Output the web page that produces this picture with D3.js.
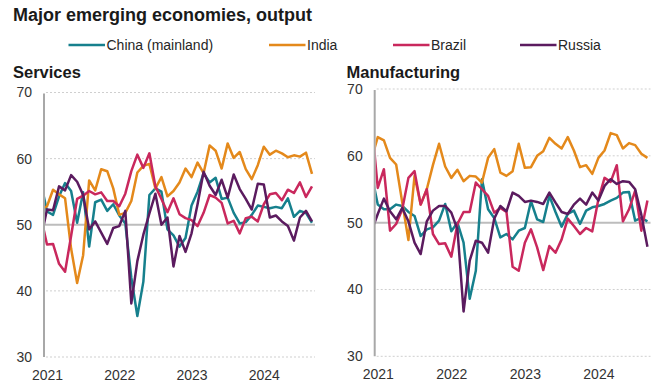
<!DOCTYPE html>
<html>
<head>
<meta charset="utf-8">
<script src="https://d3js.org/d3.v7.min.js"></script>
<style>
  html, body { margin: 0; padding: 0; background: #fff; }
  svg { display: block; font-family: "Liberation Sans", Arial, sans-serif; }
</style>
</head>
<body>
<svg id="chart" width="659" height="383"></svg>
<script>
// Monthly readings, December 2020 to September 2024
const startMonth = new Date(2020, 11, 1);
const monthCount = 46;

const seriesNames = ["China (mainland)", "India", "Brazil", "Russia"];
const seriesColors = ["#16808d", "#e4891b", "#c9285d", "#5b1b5f"];

const yTicks = [30, 40, 50, 60, 70];
const yearTicks = ["2021", "2022", "2023", "2024"];

// Services business activity
const servicesChina = [56.3, 52.0, 51.5, 54.3, 56.3, 55.1, 50.3, 54.9, 46.7, 53.4, 53.8, 52.1, 53.1,
  51.4, 50.2, 42.0, 36.2, 41.4, 54.5, 55.5, 55.0, 49.3, 48.4, 46.7, 48.0,
  52.9, 55.0, 57.8, 56.4, 57.1, 53.9, 54.1, 51.8, 50.2, 50.4, 51.5, 52.9,
  52.7, 52.5, 52.7, 52.5, 54.0, 51.2, 52.1, 51.8, 50.3];
const servicesIndia = [52.3, 52.8, 55.3, 54.6, 54.0, 46.4, 41.2, 45.4, 56.7, 55.2, 58.4, 58.1, 55.5,
  51.5, 51.8, 53.6, 57.9, 58.9, 59.2, 55.5, 57.2, 54.3, 55.1, 56.4, 58.5,
  57.2, 59.4, 57.8, 62.0, 61.2, 58.5, 62.3, 60.1, 61.0, 58.4, 56.9, 59.0,
  61.8, 60.6, 61.2, 60.8, 60.2, 60.5, 60.3, 60.9, 57.7];
const servicesBrazil = [51.1, 47.0, 47.1, 44.1, 42.9, 48.3, 53.9, 54.4, 55.1, 54.6, 54.9, 53.6, 53.6,
  52.8, 54.7, 58.1, 60.6, 58.6, 60.8, 55.8, 53.9, 51.9, 54.0, 51.6, 51.0,
  50.7, 49.8, 51.8, 54.5, 54.1, 53.3, 50.2, 50.6, 48.7, 51.0, 51.2, 50.5,
  53.1, 54.6, 54.8, 53.7, 55.3, 54.8, 56.4, 54.2, 55.8];
const servicesRussia = [48.0, 52.3, 52.2, 55.8, 55.2, 57.5, 56.5, 54.5, 49.3, 50.5, 48.8, 47.1, 49.5,
  49.8, 52.1, 38.1, 44.5, 48.5, 51.7, 54.7, 50.0, 51.1, 43.7, 48.3, 45.9,
  48.7, 53.1, 58.0, 55.9, 54.5, 56.8, 54.1, 57.6, 55.4, 53.9, 52.3, 56.2,
  56.1, 51.1, 51.4, 50.5, 49.8, 47.6, 51.1, 52.1, 50.5];

// Manufacturing output
const mfgChina = [57.2, 52.7, 52.0, 52.0, 52.7, 52.5, 51.6, 51.0, 48.0, 49.0, 49.3, 50.3, 52.8,
  48.7, 50.0, 47.0, 38.6, 42.8, 56.5, 52.0, 50.7, 47.8, 48.3, 47.5, 48.8,
  49.2, 53.2, 50.5, 50.1, 54.0, 51.6, 49.4, 51.3, 51.8, 49.8, 51.8, 52.3,
  52.5, 52.8, 53.3, 53.7, 54.5, 54.6, 50.3, 50.7, 50.2];
const mfgIndia = [59.6, 62.8, 62.3, 59.7, 58.7, 53.0, 47.4, 57.0, 52.7, 55.0, 58.6, 61.8, 58.4,
  56.7, 57.9, 56.2, 57.0, 56.9, 56.0, 59.7, 61.0, 57.5, 57.0, 57.7, 61.8,
  58.2, 58.3, 60.0, 60.7, 62.7, 61.8, 61.1, 62.8, 60.8, 58.3, 58.6, 57.3,
  59.7, 60.8, 63.4, 63.1, 61.1, 61.9, 61.6, 60.3, 59.7];
const mfgBrazil = [65.0, 55.2, 58.0, 48.8, 49.8, 52.0, 56.7, 57.7, 52.7, 55.0, 48.3, 46.8, 46.9,
  44.9, 49.8, 51.6, 51.6, 56.0, 55.0, 54.0, 51.5, 52.2, 51.6, 43.4, 42.8,
  47.0, 49.0, 46.3, 42.9, 46.5, 45.5, 47.5, 50.6, 49.5, 48.3, 49.2, 48.7,
  53.5, 56.7, 56.1, 58.6, 50.2, 52.0, 54.8, 48.8, 53.3];
const mfgRussia = [48.8, 51.3, 53.6, 51.7, 50.5, 52.2, 50.2, 47.0, 45.3, 50.2, 51.8, 52.5, 52.5,
  51.5, 49.0, 36.7, 44.3, 47.3, 47.0, 45.5, 50.6, 52.5, 51.7, 54.5, 54.0,
  53.1, 53.3, 53.1, 52.8, 54.5, 53.0, 51.6, 51.3, 52.7, 53.6, 52.7, 54.5,
  53.3, 55.5, 56.5, 55.8, 56.2, 56.1, 55.0, 51.2, 46.4];

const months = d3.range(monthCount).map(k => d3.timeMonth.offset(startMonth, k));

const panels = [
  { title: "Services", titleX: 13, series: [servicesChina, servicesIndia, servicesBrazil, servicesRussia],
    left: 44, right: 315, top: 92.5, bottom: 357 },
  { title: "Manufacturing", titleX: 346.5, series: [mfgChina, mfgIndia, mfgBrazil, mfgRussia],
    left: 374.7, right: 650.5, top: 89, bottom: 356.3 }
];

const svg = d3.select("#chart");
const ink = "#1a1a1a";

svg.append("text")
  .attr("x", 13).attr("y", 21)
  .attr("font-size", 18).attr("font-weight", "bold").attr("fill", ink)
  .text("Major emerging economies, output");

// Legend
const legendX = [68.5, 269, 393, 520];
const legend = svg.append("g").attr("class", "legend");
seriesNames.forEach((name, k) => {
  const g = legend.append("g").attr("transform", `translate(${legendX[k]},45)`);
  g.append("line").attr("x1", 0).attr("x2", 36.5).attr("y1", 0).attr("y2", 0)
    .attr("stroke", seriesColors[k]).attr("stroke-width", 2.5);
  g.append("text").attr("x", 38).attr("y", 5)
    .attr("font-size", 14).attr("fill", "#262626").text(name);
});

panels.forEach((p, pi) => {
  const x = d3.scaleLinear().domain([0.5, monthCount - 0.5]).range([p.left, p.right]);
  const y = d3.scaleLinear().domain([30, 70]).range([p.bottom, p.top]);
  const g = svg.append("g").attr("class", "panel");

  g.append("text")
    .attr("x", p.titleX).attr("y", 78)
    .attr("font-size", 16.5).attr("font-weight", "bold").attr("fill", ink)
    .text(p.title);

  // gridlines
  g.append("g").selectAll("line")
    .data(yTicks.filter(v => v !== 50))
    .join("line")
    .attr("x1", p.left + 2).attr("x2", p.right)
    .attr("y1", d => y(d)).attr("y2", d => y(d))
    .attr("stroke", "#cfcfcf").attr("stroke-width", 1)
    .attr("stroke-dasharray", "2,2");

  // y tick labels
  const yAxis = g.append("g")
    .attr("transform", `translate(${p.left},0)`)
    .call(d3.axisLeft(y).tickValues(yTicks).tickSize(0).tickPadding(12).tickFormat(d3.format("d")));
  yAxis.select(".domain").remove();
  yAxis.selectAll("text").attr("font-size", 14).attr("fill", "#333")
    .attr("font-family", "Liberation Sans, Arial, sans-serif");

  // x tick labels at each January
  const janIdx = months.map((d, k) => d.getMonth() === 0 ? k : -1).filter(k => k >= 0);
  const xAxis = g.append("g")
    .attr("transform", `translate(0,${p.bottom})`)
    .call(d3.axisBottom(x).tickValues(janIdx).tickSize(0).tickPadding(13)
      .tickFormat((d, k) => yearTicks[k]));
  xAxis.select(".domain").remove();
  xAxis.selectAll("text").attr("font-size", 14).attr("fill", "#333")
    .attr("font-family", "Liberation Sans, Arial, sans-serif");

  // 50 reference line and vertical axis
  g.append("line")
    .attr("x1", p.left).attr("x2", p.right)
    .attr("y1", y(50)).attr("y2", y(50))
    .attr("stroke", "#bdbdbd").attr("stroke-width", 2);
  g.append("line")
    .attr("x1", p.left).attr("x2", p.left)
    .attr("y1", y(70) + 1).attr("y2", y(30))
    .attr("stroke", "#a8a8a8").attr("stroke-width", 2);

  const clipId = "clip" + pi;
  svg.append("clipPath").attr("id", clipId)
    .append("rect")
    .attr("x", p.left + 1).attr("y", p.top - 20)
    .attr("width", p.right - p.left + 6).attr("height", p.bottom - p.top + 40);

  const line = d3.line().x((d, k) => x(k)).y(d => y(d)).curve(d3.curveLinear);

  g.append("g").attr("clip-path", `url(#${clipId})`)
    .selectAll("path")
    .data(p.series)
    .join("path")
    .attr("d", d => line(d))
    .attr("fill", "none")
    .attr("stroke", (d, k) => seriesColors[k])
    .attr("stroke-width", 2.5)
    .attr("stroke-linejoin", "round")
    .attr("stroke-linecap", "butt");
});
</script>
</body>
</html>
